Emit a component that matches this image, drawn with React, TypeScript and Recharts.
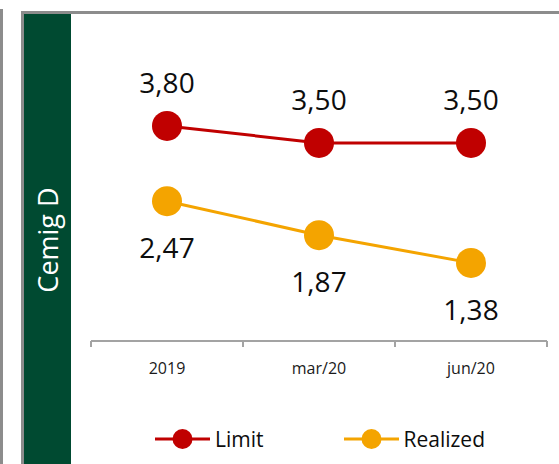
import { LineChart, Line, XAxis, YAxis, LabelList } from "recharts";

const periods = ["2019", "mar/20", "jun/20"];
const limitValues = [3.8, 3.5, 3.5];
const realizedValues = [2.47, 1.87, 1.38];

const RED = "#C00000";
const ORANGE = "#F4A400";
const GREEN = "#004A31";
const GRAY = "#A3A3A3";
const FONT = "'Open Sans', sans-serif";

const W = 559;
const H = 464;
const margin = { top: 58, right: 12, left: 91, bottom: 93 };
const plotWidth = W - margin.left - margin.right;
const halfBand = plotWidth / periods.length / 2;
const axisY = H - margin.bottom - 30;

const series = [
  { key: "limit", name: "Limit", color: RED, labelPos: "top" as const, offset: 33 },
  { key: "realized", name: "Realized", color: ORANGE, labelPos: "bottom" as const, offset: 37 },
];

const data = periods.map((p, i) => ({
  period: p,
  limit: limitValues[i],
  realized: realizedValues[i],
}));

const fmt = (v: any) => Number(v).toFixed(2).replace(".", ",");

const PeriodTick = (props: any) => {
  const { x, y, payload, index } = props;
  const last = index === periods.length - 1;
  return (
    <g>
      <line x1={x - halfBand} y1={axisY} x2={x - halfBand} y2={axisY + 6} stroke={GRAY} strokeWidth={2} />
      {last && (
        <line x1={x + halfBand} y1={axisY} x2={x + halfBand} y2={axisY + 6} stroke={GRAY} strokeWidth={2} />
      )}
      <text x={x} y={y} dy="0.71em" textAnchor="middle" fontSize={16} fill="#1a1a1a" fontFamily={FONT}>
        {payload.value}
      </text>
    </g>
  );
};

export default function App() {
  return (
    <div
      style={{
        position: "absolute",
        left: 0,
        top: 0,
        width: W,
        height: H,
        background: "#fff",
        fontFamily: FONT,
        overflow: "hidden",
      }}
    >
      {/* frame and side band */}
      <div style={{ position: "absolute", left: 0, top: 9, width: 3, height: H, background: "#8c8c8c" }} />
      <div style={{ position: "absolute", left: 21, top: 11, width: W, height: 3, background: "#8c8c8c" }} />
      <div style={{ position: "absolute", left: 21, top: 11, width: 3, height: H, background: "#8c8c8c" }} />
      <div style={{ position: "absolute", left: 24, top: 14, width: 47, height: H, background: GREEN }} />
      <div
        style={{
          position: "absolute",
          left: 47,
          top: 240,
          transform: "translate(-50%, -50%) rotate(-90deg)",
          color: "#fff",
          fontSize: 27,
          whiteSpace: "nowrap",
          lineHeight: 1,
        }}
      >
        Cemig D
      </div>

      <div style={{ position: "absolute", left: 0, top: 0 }}>
        <LineChart width={W} height={H} data={data} margin={margin}>
          <XAxis
            dataKey="period"
            height={30}
            padding={{ left: halfBand, right: halfBand }}
            axisLine={{ stroke: GRAY, strokeWidth: 2 }}
            tickLine={false}
            tickSize={0}
            tickMargin={22}
            tick={<PeriodTick />}
            interval={0}
          />
          <YAxis hide domain={[0, 5]} />
          {series.map((s) => (
            <Line
              key={s.key}
              dataKey={s.key}
              name={s.name}
              stroke={s.color}
              strokeWidth={3}
              dot={{ r: 15, fill: s.color, stroke: "none" }}
              activeDot={false}
              isAnimationActive={false}
            >
              <LabelList
                dataKey={s.key}
                position={s.labelPos}
                offset={s.offset}
                formatter={fmt}
                style={{ fontSize: 28, fill: "#0d0d0d", fontFamily: FONT }}
              />
            </Line>
          ))}
        </LineChart>
      </div>

      {/* legend */}
      <div style={{ position: "absolute", left: 155, top: 427, display: "flex", alignItems: "center", gap: 80 }}>
        {series.map((s) => (
          <div key={s.key} style={{ display: "flex", alignItems: "center" }}>
            <svg width={55} height={24}>
              <line x1={0} y1={12} x2={55} y2={12} stroke={s.color} strokeWidth={3} />
              <circle cx={27.5} cy={12} r={10} fill={s.color} />
            </svg>
            <span style={{ fontSize: 21, color: "#0d0d0d", marginLeft: 5, lineHeight: "24px" }}>{s.name}</span>
          </div>
        ))}
      </div>
    </div>
  );
}
